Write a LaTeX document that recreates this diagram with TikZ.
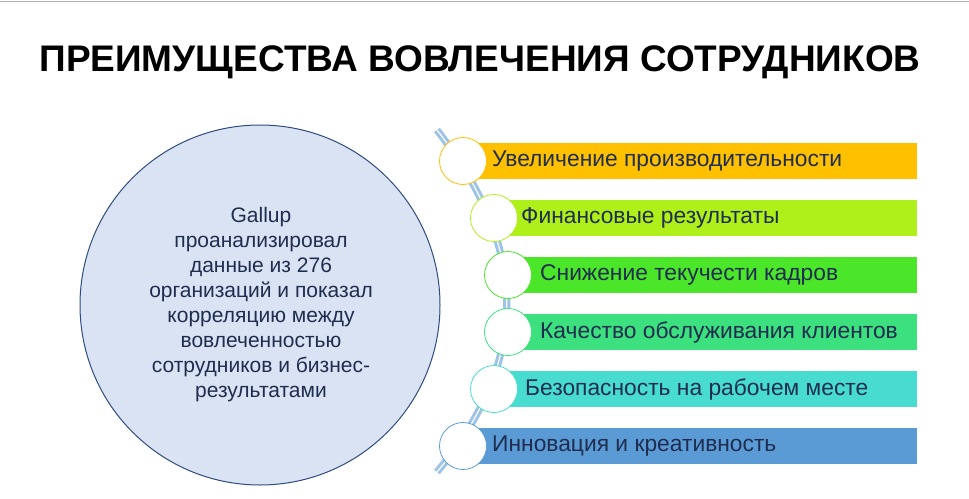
\documentclass[tikz,border=0pt]{standalone}
\usepackage{fontspec}
\setmainfont{Liberation Sans}
\begin{document}
\begin{tikzpicture}[x=1pt,y=-1pt,
  bar/.style={inner sep=0pt,minimum height=36pt,anchor=west},
  dot/.style={circle,fill=white,draw,line width=0.8pt,minimum size=47pt,inner sep=0pt},
  lbl/.style={anchor=west,font=\fontsize{22.8}{26}\selectfont,text=txt,inner sep=0pt}]
\definecolor{txt}{HTML}{1F2D4F}
\definecolor{c1}{HTML}{FFC000}\definecolor{c2}{HTML}{B0F01A}\definecolor{c3}{HTML}{4BE62A}
\definecolor{c4}{HTML}{3CE07E}\definecolor{c5}{HTML}{48DCD0}\definecolor{c6}{HTML}{5B9BD5}
\definecolor{cfill}{HTML}{DAE3F3}\definecolor{cline}{HTML}{2F4C7F}\definecolor{lb}{HTML}{9DC3E6}
\useasboundingbox (0,0) rectangle (969,498);
\fill[white] (0,0) rectangle (969,498);
\draw[gray!60,line width=1pt] (0,1) -- (969,1);
\node (title) at (480,62) {\fontsize{37}{42}\selectfont\bfseries ПРЕИМУЩЕСТВА ВОВЛЕЧЕНИЯ СОТРУДНИКОВ};
\node[circle,fill=cfill,draw=cline,line width=1pt,minimum size=360pt] (big) at (260,305) {};
\node[align=center,text=txt,font=\fontsize{21}{25}\selectfont] (btxt) at (261,305)
 {Gallup\\проанализировал\\данные из 276\\организаций и показал\\корреляцию между\\вовлеченностью\\сотрудников и бизнес-\\результатами};
\coordinate (ct) at (437,130); \coordinate (cb) at (437,472);
\draw[lb,double=white,line width=3pt,double distance=1.2pt] (ct) .. controls (530,250) and (530,360) .. (cb);
\foreach \i/\cx/\cy/\tx/\t in {
 1/463/161/492/Увеличение производительности,
 2/494/218/521/Финансовые результаты,
 3/508/275/540/Снижение текучести кадров,
 4/508/332/540/Качество обслуживания клиентов,
 5/494/389/525/Безопасность на рабочем месте,
 6/463/446/492/Инновация и креативность}{
  \fill[c\i] (\cx,\cy-18) rectangle (917,\cy+18);
  \node[dot,draw=c\i] (d\i) at (\cx,\cy) {};
  \node[lbl] (t\i) at (\tx,\cy) {\t};
}
\end{tikzpicture}
\end{document}
